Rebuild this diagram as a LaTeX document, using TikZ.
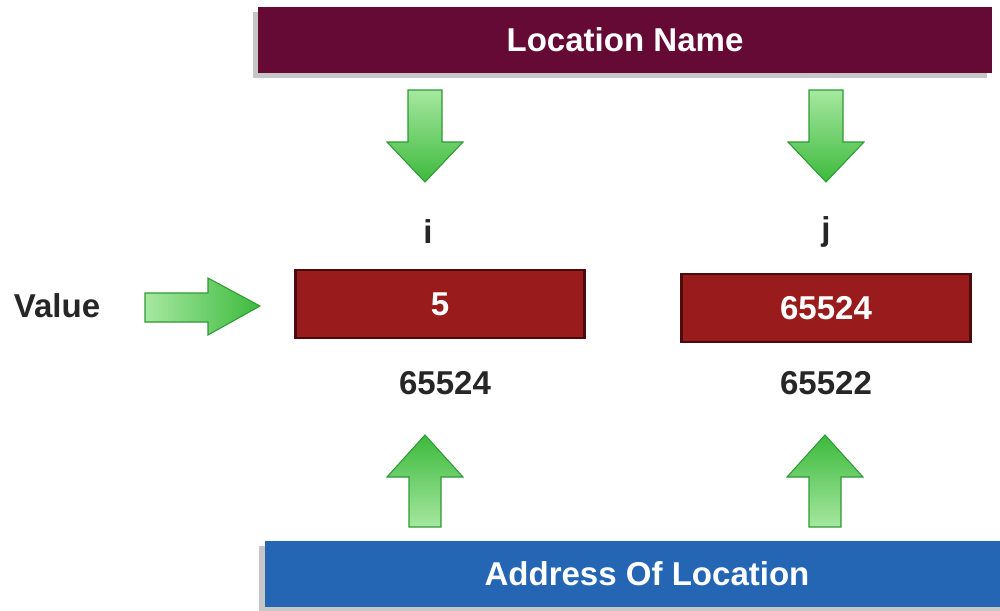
\documentclass[tikz,border=0pt]{standalone}
\usepackage{fontspec}
\setmainfont{Liberation Sans}
\usetikzlibrary{shadows}

\definecolor{granate}{HTML}{650A35}
\definecolor{rojocaja}{HTML}{991B1B}
\definecolor{bordecaja}{HTML}{4A0C0C}
\definecolor{azulbarra}{HTML}{2466B4}
\definecolor{verdeclaro}{HTML}{A6E8A0}
\definecolor{verdemedio}{HTML}{3DBA3D}
\definecolor{verdeborde}{HTML}{2E9A34}

\begin{document}
\begin{tikzpicture}[x=0.1mm, y=-0.1mm,
    every node/.style={font=\fontsize{9.4}{11}\selectfont\bfseries},
    barra/.style={minimum height=0.66cm, inner sep=0pt, text=white,
        drop shadow={shadow xshift=-1.5pt, shadow yshift=-1.5pt, opacity=0.45}},
    caja/.style={fill=rojocaja, draw=bordecaja, line width=0.6pt, text=white,
        minimum width=2.89cm, minimum height=0.68cm, inner sep=0pt},
    etiqueta/.style={text=black!85},
    flecha/.style={draw=verdeborde, line width=0.3pt}]
                \useasboundingbox (0,0) rectangle (1000,611);

                % Barra superior: nombre de la posicion
                \node[barra, fill=granate, minimum width=7.34cm] (nombre) at (625,40) {Location Name};

                % Barra inferior: direccion (se sale por la derecha)
                \node[barra, fill=azulbarra, minimum width=7.65cm] (direccion) at (647,574) {Address Of Location};

                % Cajas de memoria con su contenido
                \node[caja] (cajaI) at (440,304) {5};
                \node[caja] (cajaJ) at (826,308) {65524};

                % Nombres de las variables
                \node[etiqueta] (nomI) at (428,232) {i};
                \node[etiqueta] (nomJ) at (826,232) {j};

                % Direcciones
                \node[etiqueta] (dirI) at (445,383) {65524};
                \node[etiqueta] (dirJ) at (826,383) {65522};

                % Texto del valor
                \node[etiqueta] (valor) at (57,306) {Value};

                % Flechas hacia abajo (desde el nombre)
                \foreach \cx in {425,826} {
                    \draw[flecha, top color=verdeclaro, bottom color=verdemedio]
                        (\cx-17,90) -- (\cx+17,90) -- (\cx+17,142) -- (\cx+38,142)
                        -- (\cx,182) -- (\cx-38,142) -- (\cx-17,142) -- cycle;
                }

                % Flechas hacia arriba (desde la direccion)
                \foreach \cx in {425,825} {
                    \draw[flecha, top color=verdemedio, bottom color=verdeclaro]
                        (\cx-16,527) -- (\cx+16,527) -- (\cx+16,477) -- (\cx+38,477)
                        -- (\cx,435) -- (\cx-38,477) -- (\cx-16,477) -- cycle;
                }

                % Flecha del valor
                \draw[flecha, left color=verdeclaro, right color=verdemedio]
                    (145,293) -- (208,293) -- (208,278) -- (260,306)
                    -- (208,335) -- (208,322) -- (145,322) -- cycle;
            \end{tikzpicture}
\end{document}
